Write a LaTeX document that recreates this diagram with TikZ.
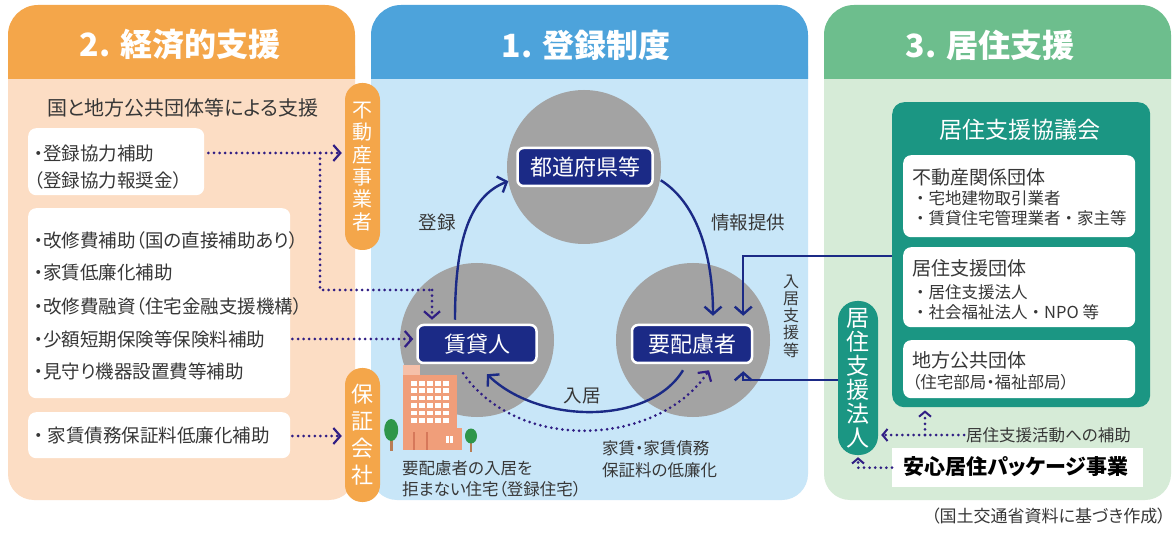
\documentclass[tikz,border=0pt]{standalone}
\usepackage{fontspec}
\setmainfont{Noto Sans CJK JP}[RawFeature=+palt]
\newfontfamily\jpfull{Noto Sans CJK JP}
\usetikzlibrary{arrows.meta,calc}
\definecolor{orH}{RGB}{244,166,74}
\definecolor{orB}{RGB}{252,221,196}
\definecolor{blH}{RGB}{77,163,219}
\definecolor{blB}{RGB}{200,230,248}
\definecolor{grH}{RGB}{109,190,141}
\definecolor{grB}{RGB}{214,235,215}
\definecolor{tealc}{RGB}{27,150,131}
\definecolor{navyc}{RGB}{27,42,134}
\definecolor{dotc}{RGB}{48,30,132}
\definecolor{circc}{RGB}{163,163,163}
\definecolor{txtc}{RGB}{55,55,55}
\definecolor{bldc}{RGB}{240,158,122}
\definecolor{bldd}{RGB}{214,120,90}
\definecolor{treec}{RGB}{46,150,74}
\definecolor{trunkc}{RGB}{185,125,85}
\begin{document}
\begin{tikzpicture}[x=1pt,y=-1pt,
  tx/.style={font=\fontsize{18.5}{22}\selectfont, text=txtc, inner sep=0pt, anchor=west},
  tsm/.style={font=\fontsize{16.5}{20}\selectfont, text=txtc, inner sep=0pt, anchor=west},
  tsf/.style={font=\jpfull\fontsize{16.5}{20}\selectfont, text=txtc, inner sep=0pt, anchor=west},
  thd/.style={font=\fontsize{19}{22}\selectfont, text=txtc, inner sep=0pt, anchor=west},
  head/.style={font=\fontsize{32}{38}\selectfont\bfseries, text=white, inner sep=0pt},
  wbox/.style={fill=white, rounded corners=8pt, anchor=north west, inner sep=0pt},
  pillO/.style={fill=orH, rounded corners=17pt, minimum width=35pt, text=white, align=center, inner sep=0pt},
  pillT/.style={fill=tealc, rounded corners=19pt, minimum width=40pt, text=white, align=center, inner sep=0pt},
  navybox/.style={fill=navyc, draw=white, line width=2.5pt, rounded corners=6pt, text=white,
    font=\fontsize{22}{26}\selectfont, minimum height=38pt, inner sep=0pt},
  gcirc/.style={circle, fill=circc, minimum size=154pt, inner sep=0pt},
  solidarr/.style={draw=navyc, line width=2.4pt, -{Straight Barb[length=7.5pt,width=17pt]}},
  dotarr/.style={draw=dotc, line width=3pt, line cap=round, dash pattern=on 0pt off 5.6pt,
    -{Straight Barb[length=7pt,width=16pt,line width=2.2pt]}},
  dotarrs/.style={dotarr, -{Straight Barb[length=5pt,width=12pt,line width=2pt]}}
]
\useasboundingbox (0,0) rectangle (1173,537);
\fill[white] (0,0) rectangle (1173,537);

% ---------- panels ----------
\fill[orB, rounded corners=26pt] (8,40) rectangle (355,500);
\fill[orH] (8,79) [rounded corners=30pt] -- (8,5) -- (355,5) [sharp corners] -- (355,79) -- cycle;
\fill[blB, rounded corners=26pt] (371,40) rectangle (808,500);
\fill[blH] (371,79) [rounded corners=30pt] -- (371,5) -- (808,5) [sharp corners] -- (808,79) -- cycle;
\fill[grB, rounded corners=26pt] (824,40) rectangle (1171,500);
\fill[grH] (824,79) [rounded corners=30pt] -- (824,5) -- (1171,5) [sharp corners] -- (1171,79) -- cycle;

\node[head] (h2) at (180,45) {2. 経済的支援};
\node[head] (h1) at (586,45) {1. 登録制度};
\node[head] (h3) at (990,45) {3. 居住支援};

% ---------- left panel ----------
\node[font=\fontsize{20}{24}\selectfont, text=txtc, inner sep=0pt] (lhd) at (183,108) {国と地方公共団体等による支援};
\node[wbox, minimum width=176pt, minimum height=67pt] (b1) at (28,128) {};
\node[wbox, minimum width=262pt, minimum height=190pt] (b2) at (28,208) {};
\node[wbox, minimum width=262pt, minimum height=46pt] (b3) at (28,412) {};
\node[tx] (l1) at (34,153) {・登録協力補助};
\node[tx] (l2) at (34,180) {（登録協力報奨金）};
\node[tx] (l3) at (34,240) {・改修費補助（国の直接補助あり）};
\node[tx] (l4) at (34,273) {・家賃低廉化補助};
\node[tx] (l5) at (34,306) {・改修費融資（住宅金融支援機構）};
\node[tx] (l6) at (34,339) {・少額短期保険等保険料補助};
\node[tx] (l7) at (34,371) {・見守り機器設置費等補助};
\node[tx] (l8) at (34,436) {・ 家賃債務保証料低廉化補助};

\node[pillO, minimum height=167pt, font=\fontsize{20}{22.4}\selectfont] (p1) at (362.5,166.5) {不\\動\\産\\事\\業\\者};
\node[pillO, minimum height=134pt, font=\fontsize{22}{27}\selectfont] (p2) at (362.5,435) {保\\証\\会\\社};

% ---------- middle panel ----------
\node[gcirc] (cP) at (584,167) {};
\node[gcirc] (cT) at (477,340) {};
\node[gcirc] (cR) at (693,340) {};
\node[navybox, minimum width=135pt] (nP) at (585,167) {都道府県等};
\node[navybox, minimum width=119pt] (nT) at (477,344) {賃貸人};
\node[navybox, minimum width=120pt] (nR) at (692,344) {要配慮者};

\node[tx, anchor=center] (lbTo) at (437,222) {登録};
\node[tx, anchor=center] (lbJo) at (748,222) {情報提供};
\node[tx, anchor=center] (lbNy) at (582,396) {入居};
\node[font=\fontsize{16}{17.2}\selectfont, text=txtc, align=center, inner sep=0pt] (lbSi) at (791,316) {入\\居\\支\\援\\等};
\node[tsm] (lbH1) at (402,468) {要配慮者の入居を};
\node[tsm] (lbH2) at (402,489) {拒まない住宅（登録住宅）};
\node[tsm] (lbK1) at (602,448) {家賃・家賃債務};
\node[tsm] (lbK2) at (602,470) {保証料の低廉化};

% building illustration
\fill[bldc!65!white] (403,365) rectangle (420,375);
\fill[bldc] (403,375) rectangle (457,428);
\fill[bldc] (403,428) rectangle (462,450);
\foreach \i in {0,...,4} {\foreach \j in {0,...,5} {\fill[white] (411+\i*8,381+\j*7.4) rectangle ++(5.5,4.6);}}
\fill[bldd] (413,432) rectangle (415,450);
\fill[bldd] (426,432) rectangle (428,450);
\fill[white] (446,436) rectangle (448.5,443);
\fill[white] (450,436) rectangle (452.5,443);
\fill[trunkc] (390,438) rectangle (392.5,451);
\fill[treec] (391.2,430) ellipse (7pt and 11pt);
\fill[trunkc] (470,441) rectangle (472,452);
\fill[treec] (471,436) ellipse (6pt and 7.5pt);

% ---------- right panel ----------
\node[fill=tealc, rounded corners=12pt, minimum width=258pt, minimum height=305pt, anchor=north west, inner sep=0pt] (cou) at (892,102) {};
\node[font=\fontsize{23}{28}\selectfont, text=white, inner sep=0pt] (couT) at (1020,130) {居住支援協議会};
\node[wbox, minimum width=232pt, minimum height=82pt] (rA) at (903,155) {};
\node[wbox, minimum width=232pt, minimum height=80pt] (rB) at (903,247) {};
\node[wbox, minimum width=232pt, minimum height=58pt] (rC) at (903,340) {};
\node[thd] (a1) at (912,177) {不動産関係団体};
\node[tsf] (a2) at (912,198) {・宅地建物取引業者};
\node[tsf] (a3) at (912,218) {・賃貸住宅管理業者・家主等};
\node[thd] (bb1) at (912,268) {居住支援団体};
\node[tsf] (bb2) at (912,292) {・居住支援法人};
\node[tsf] (bb3) at (912,312) {・社会福祉法人・NPO 等};
\node[thd] (c1) at (912,360) {地方公共団体};
\node[tsm] (c2) at (912,382) {（住宅部局・福祉部局）};

\node[pillT, minimum height=154pt, font=\fontsize{23}{24}\selectfont] (pR) at (858,378) {居\\住\\支\\援\\法\\人};
\node[tsm] (tH) at (966,435) {居住支援活動への補助};
\node[fill=white, minimum width=251pt, minimum height=39pt, anchor=north west, inner sep=0pt] (pk) at (892,448) {};
\node[font=\fontsize{21}{25}\selectfont\bfseries, text=black, inner sep=0pt, anchor=west] (pkT) at (903,467) {安心居住パッケージ事業};

\node[font=\fontsize{17}{20}\selectfont, text=txtc, inner sep=0pt, anchor=east] (src) at (1166,516) {（国土交通省資料に基づき作成）};

% ---------- connectors ----------
\coordinate (j1) at (320,153);
\coordinate (k1) at (432,290);
\draw[dotarr, shorten <=4pt, shorten >=3pt] (b1.east |- l1) -- (p1.west |- l1);
\draw[dotarr, -] (j1) |- (k1);
\draw[dotarr, shorten >=4pt] (k1) -- (k1 |- nT.north);
\draw[dotarr, shorten <=2pt, shorten >=3pt] (b2.east |- l6) -- (nT.west |- l6);
\draw[dotarr, shorten <=2pt, shorten >=3pt] (b3.east |- l8) -- (p2.west |- l8);

\draw[solidarr] ($(nT.north)+(-22,-4)$) .. controls (455,240) and (470,196) .. ($(nP.south west)+(-8,-6)$);
\draw[solidarr] ($(nP.south east)+(7,-7)$) .. controls (700,205) and (713,262) .. ($(nR.north)+(21,-8)$);
\draw[solidarr] ($(nR.south)+(-9,6)$) .. controls (650,425) and (540,425) .. ($(nT.south)+(10,10)$);
\draw[dotarr] ($(nT.south)+(-14,9)$) .. controls (520,455) and (660,445) .. ($(nR.south)+(17,6)$);

\coordinate (cy1) at (0,256);
\coordinate (cy2) at (0,380);
\draw[solidarr] (cou.west |- cy1) -| ($(nR.north east)+(-10,-8)$);
\draw[solidarr] (pR.west |- cy2) -| ($(nR.south east)+(-10,7)$);

\coordinate (j2) at (925,435);
\draw[dotarrs, shorten <=2pt, shorten >=3pt] (tH.west) -- (pR.east |- tH.west);
\draw[dotarrs, shorten >=3pt] (j2) -- (j2 |- cou.south);
\draw[dotarrs, shorten >=2pt] (pk.west) -| (pR.south);
\end{tikzpicture}
\end{document}
